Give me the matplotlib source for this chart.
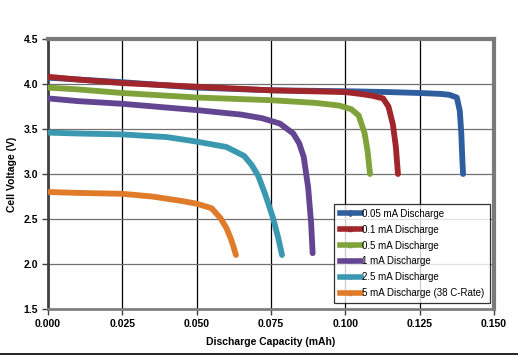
import matplotlib
matplotlib.use("Agg")
import matplotlib.pyplot as plt
from matplotlib.lines import Line2D

plt.rcParams['font.family'] = ['Liberation Sans', 'DejaVu Sans']

labels = ["0.05 mA Discharge", "0.1 mA Discharge", "0.5 mA Discharge",
          "1 mA Discharge", "2.5 mA Discharge", "5 mA Discharge (38 C-Rate)"]
colors = ["#2F5E9E", "#A0262B", "#7FA33A", "#644591", "#3A99B0", "#E07B2A"]
markers = ["D", "s", "^", "x", "*", "o"]

cap_005 = [0.000, 0.010, 0.025, 0.050, 0.075, 0.100, 0.115, 0.125, 0.132, 0.135, 0.1375, 0.1385, 0.1390, 0.1393, 0.1396]
v_005   = [4.07, 4.05, 4.02, 3.96, 3.93, 3.92, 3.91, 3.90, 3.89, 3.88, 3.85, 3.70, 3.45, 3.20, 3.00]

cap_01 = [0.000, 0.010, 0.025, 0.050, 0.075, 0.100, 0.105, 0.109, 0.1127, 0.1145, 0.1160, 0.1170, 0.1177]
v_01   = [4.08, 4.05, 4.01, 3.97, 3.93, 3.91, 3.89, 3.87, 3.84, 3.75, 3.55, 3.30, 3.00]

cap_05 = [0.000, 0.010, 0.025, 0.050, 0.075, 0.090, 0.098, 0.102, 0.1045, 0.1065, 0.1075, 0.1083]
v_05   = [3.96, 3.94, 3.90, 3.85, 3.82, 3.79, 3.76, 3.72, 3.65, 3.45, 3.25, 3.00]

cap_1 = [0.000, 0.010, 0.025, 0.050, 0.065, 0.072, 0.078, 0.0825, 0.0845, 0.0860, 0.0875, 0.0885, 0.0890]
v_1   = [3.84, 3.81, 3.78, 3.71, 3.66, 3.62, 3.56, 3.45, 3.34, 3.19, 2.85, 2.45, 2.12]

cap_25 = [0.000, 0.010, 0.025, 0.040, 0.050, 0.060, 0.066, 0.0685, 0.0707, 0.0730, 0.0757, 0.0775, 0.0787]
v_25   = [3.46, 3.45, 3.44, 3.41, 3.36, 3.30, 3.20, 3.10, 2.98, 2.78, 2.51, 2.28, 2.10]

cap_5 = [0.000, 0.010, 0.025, 0.035, 0.045, 0.050, 0.055, 0.058, 0.0600, 0.0615, 0.0625, 0.0632]
v_5   = [2.80, 2.79, 2.78, 2.75, 2.70, 2.67, 2.62, 2.51, 2.40, 2.28, 2.18, 2.10]

series = [(cap_005, v_005), (cap_01, v_01), (cap_05, v_05),
          (cap_1, v_1), (cap_25, v_25), (cap_5, v_5)]

xticks = [0.000, 0.025, 0.050, 0.075, 0.100, 0.125, 0.150]
yticks = [1.5, 2.0, 2.5, 3.0, 3.5, 4.0, 4.5]

fig = plt.figure(figsize=(5.18, 3.55), dpi=100)
ax = fig.add_axes([48/518, 1-309/355, 446/518, 270/355])

for (x, y), c in zip(series, colors):
    ax.plot(x, y, color=c, lw=4.2, solid_capstyle='round',
            solid_joinstyle='round', zorder=3)

ax.set_xlim(0, 0.15)
ax.set_ylim(1.5, 4.5)
ax.set_xticks(xticks)
ax.set_yticks(yticks)
ax.set_xticklabels([f"{t:.3f}" for t in xticks], fontsize=7.5, fontweight='bold')
ax.set_yticklabels([f"{t:.1f}" for t in yticks], fontsize=7.5, fontweight='bold')

ax.xaxis.grid(True, color='black', lw=0.9)
ax.yaxis.grid(True, color='#707070', lw=0.9)
ax.set_axisbelow(True)

for s in ['top', 'right']:
    ax.spines[s].set_color('#7a7a7a')
    ax.spines[s].set_linewidth(3)
ax.spines['left'].set_color('#404040')
ax.spines['left'].set_linewidth(2)
ax.spines['bottom'].set_color('#808080')
ax.spines['bottom'].set_linewidth(2)
ax.tick_params(axis='both', direction='out', length=4, width=1, color='#404040', pad=3)

ax.set_xlabel("Discharge Capacity (mAh)", fontsize=7.5, fontweight='bold', labelpad=6)
ax.set_ylabel("Cell Voltage (V)", fontsize=7.5, fontweight='bold', labelpad=5)

handles = [Line2D([], [], color=c, lw=4, marker=m, ms=3, mew=1) for c, m in zip(colors, markers)]
leg = ax.legend(handles, labels, loc='lower right', bbox_to_anchor=(0.997, 0.01), fontsize=7,
                frameon=True, fancybox=False, edgecolor='black',
                handlelength=2.2, handletextpad=0.1, labelspacing=0.6,
                borderpad=0.55, borderaxespad=0.3)
leg.get_frame().set_linewidth(0.9)

fig.add_artist(plt.Line2D([0, 1], [0.8/355, 0.8/355], color='black', lw=1.2,
                          transform=fig.transFigure))

fig.savefig("out.png", dpi=100)
